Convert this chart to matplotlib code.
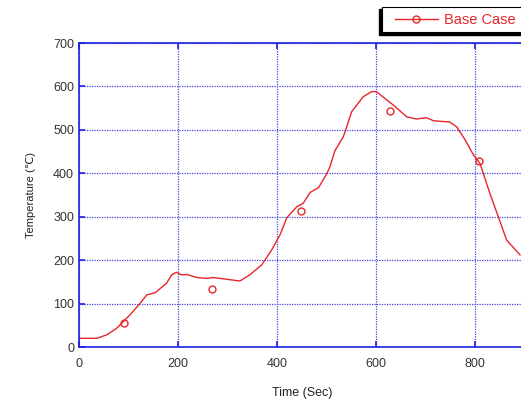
import matplotlib
matplotlib.use("Agg")
import matplotlib.pyplot as plt
from matplotlib.lines import Line2D
from matplotlib.patches import Rectangle

plt.rcParams['font.family'] = ['Liberation Sans', 'DejaVu Sans']

time_s = [0, 36, 56, 76, 103, 123, 137, 154, 177, 187, 197, 207, 218, 238, 258, 271,
          298, 325, 345, 369, 389, 406, 420, 440, 453, 467, 484, 500, 507, 517, 534,
          551, 574, 591, 601, 615, 635, 648, 662, 682, 702, 716, 749, 763, 780, 797,
          810, 830, 847, 864, 891]
temp_c = [20, 20, 28, 43, 74, 100, 120, 125, 147, 166, 172, 166, 167, 160, 158, 160,
          156, 152, 166, 189, 223, 258, 298, 323, 331, 356, 367, 398, 415, 452, 484,
          542, 576, 588, 588, 575, 557, 544, 530, 525, 528, 521, 518, 507, 477, 442,
          423, 354, 300, 246, 212]
marker_t = [90, 269, 448, 628, 809]
marker_T = [56, 134, 313, 544, 429]

xticks = [0, 200, 400, 600, 800]
yticks = [0, 100, 200, 300, 400, 500, 600, 700]

W, H = 521, 403
fig = plt.figure(figsize=(W/100, H/100), dpi=100)
ax = fig.add_axes([79/W, 56/H, (524.5-79)/W, 304/H])

red = '#e8262a'
ax.plot(time_s, temp_c, color=red, lw=1.0)
ax.plot(marker_t, marker_T, ls='none', marker='o', mfc='none', mec=red, ms=5, mew=1.0)

ax.set_xlim(0, 900)
ax.set_ylim(0, 700)
ax.set_xticks(xticks)
ax.set_yticks(yticks)
ax.grid(True, color='#4848e0', ls=(0, (1, 1)), lw=0.9)
for s in ['left', 'bottom', 'top']:
    ax.spines[s].set_color('#2020e0')
    ax.spines[s].set_linewidth(1.2)
ax.spines['right'].set_visible(False)
ax.tick_params(direction='in', colors='#2020e0', labelcolor='#333333', labelsize=9,
               length=4, width=1.2, top=True)
ax.tick_params(axis='x', pad=8)
ax.set_xlabel('Time (Sec)', fontsize=9, color='#222222', labelpad=12)
ax.set_ylabel('Temperature (℃)', fontsize=8, color='#222222', labelpad=12)

# legend box with shadow (drawn as figure patches)
fig.patches.append(Rectangle((379/W, 1-35/H), 160/W, 26/H, transform=fig.transFigure,
                             facecolor='black', edgecolor='black', zorder=1))
fig.patches.append(Rectangle((382/W, 1-32/H), 160/W, 25/H, transform=fig.transFigure,
                             facecolor='white', edgecolor='black', lw=0.8, zorder=2))
handle = Line2D([], [], color=red, lw=1.0, marker='o', mfc='none', mec=red, ms=5)
leg = fig.legend([handle], ['Base Case'], loc='center left',
                 bbox_to_anchor=(388/W, 1-20/H), fontsize=10.5, frameon=False,
                 borderpad=0.0, handlelength=2.9, handletextpad=0.45, labelcolor=red)
leg.set_zorder(3)

fig.savefig('out.png', dpi=100)
